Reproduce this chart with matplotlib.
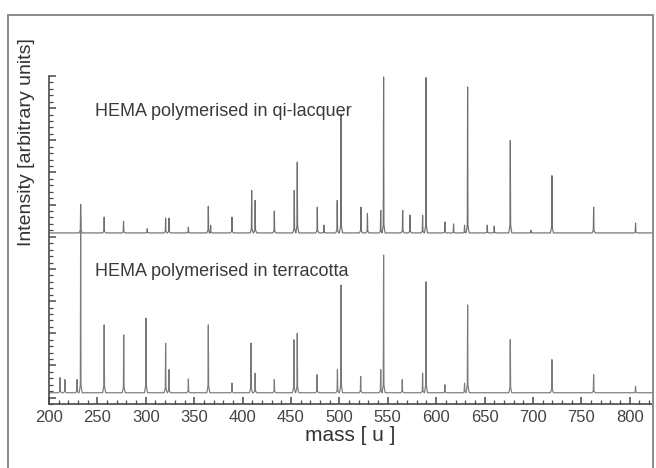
import numpy as np
from matplotlib import pyplot as plt
from matplotlib.patches import Rectangle
from matplotlib.ticker import MultipleLocator, NullFormatter

# peak lists (mass in u, intensity in arbitrary units)
lacquer_base = 5.12
lacquer_mass = [232.7, 257.0, 277.0, 301.5, 320.5, 324.0, 344.0, 364.6, 367.0, 389.0,
                409.4, 413.0, 432.8, 453.4, 456.5, 477.2, 484.0, 497.8, 501.7, 522.3,
                529.0, 542.7, 545.7, 565.4, 573.0, 586.0, 589.5, 609.0, 618.0, 629.3,
                632.5, 652.8, 660.0, 676.6, 698.0, 719.6, 762.7, 806.0]
lacquer_int = [6.01, 5.61, 5.48, 5.25, 5.58, 5.58, 5.30, 5.95, 5.36, 5.61,
               6.44, 6.13, 5.80, 6.44, 7.32, 5.92, 5.36, 6.13, 8.81, 5.92,
               5.72, 5.82, 9.97, 5.82, 5.67, 5.67, 9.95, 5.46, 5.40, 5.36,
               9.66, 5.36, 5.33, 7.99, 5.20, 6.90, 5.92, 5.43]

terracotta_base = 0.15
terracotta_mass = [211.4, 216.5, 229.0, 232.7, 257.0, 277.2, 300.2, 320.5, 324.0, 344.0,
                   364.6, 389.0, 408.7, 413.0, 432.8, 453.0, 456.5, 477.0, 498.0, 501.7,
                   522.0, 542.7, 545.7, 565.0, 586.0, 589.5, 609.0, 629.3, 632.5, 676.6,
                   719.6, 762.7, 806.0]
terracotta_int = [0.62, 0.56, 0.56, 5.60, 2.26, 1.95, 2.47, 1.69, 0.87, 0.58,
                  2.26, 0.45, 1.69, 0.76, 0.56, 1.80, 2.00, 0.71, 0.87, 3.50,
                  0.66, 0.87, 4.43, 0.56, 0.76, 3.60, 0.40, 0.45, 2.88, 1.80,
                  1.18, 0.71, 0.35]

mass_ticks = [200, 250, 300, 350, 400, 450, 500, 550, 600, 650, 700, 750, 800]
labels = ['HEMA polymerised in qi-lacquer', 'HEMA polymerised in terracotta']


def spectrum_line(masses, heights, base, start=200, stop=823):
    # sharp peaks with a small rounded foot on a flat baseline
    xs = [start]
    ys = [base]
    for m, h in zip(masses, heights):
        d = h - base
        foot = min(0.1 * d, 0.25)
        xs += [m - 1.6, m - 0.9, m - 0.35, m, m + 0.35, m + 0.9, m + 1.6]
        ys += [base, base + 0.5 * foot, base + foot, h, base + foot, base + 0.5 * foot, base]
    xs.append(stop)
    ys.append(base)
    return np.array(xs), np.array(ys)


plt.rcParams['font.family'] = ['Liberation Sans', 'DejaVu Sans']

fig = plt.figure(figsize=(6.56, 4.68), dpi=100)
fig.patch.set_facecolor('white')
ax = fig.add_axes([49 / 656, 64 / 468, 603 / 656, 328 / 468])

x1, y1 = spectrum_line(lacquer_mass, lacquer_int, lacquer_base)
x2, y2 = spectrum_line(terracotta_mass, terracotta_int, terracotta_base)
ax.plot(x1, y1, color='#707070', lw=0.85)
ax.plot(x2, y2, color='#7a7a7a', lw=0.85)

ax.text(247.5, 8.9, labels[0], fontsize=13, color='#3a3a3a', va='center', ha='left')
ax.text(247.5, 3.93, labels[1], fontsize=13, color='#3a3a3a', va='center', ha='left')

ax.set_xlim(200, 823)
ax.set_ylim(-0.2, 10)
ax.set_xticks(mass_ticks)
ax.xaxis.set_minor_locator(MultipleLocator(10))
ax.yaxis.set_major_locator(MultipleLocator(1))
ax.yaxis.set_minor_locator(MultipleLocator(0.2))
ax.yaxis.set_major_formatter(NullFormatter())

ax.tick_params(axis='both', which='major', direction='in', length=5, width=1.1,
               color='#4a4a4a', labelsize=12, labelcolor='#444444', pad=4)
ax.tick_params(axis='both', which='minor', direction='in', length=2.8, width=0.9,
               color='#4a4a4a')

for side in ['top', 'right']:
    ax.spines[side].set_visible(False)
for side in ['left', 'bottom']:
    ax.spines[side].set_color('#4a4a4a')
    ax.spines[side].set_linewidth(1.2)

ax.set_xlabel('mass [ u ]', fontsize=15, color='#333333')
ax.xaxis.set_label_coords(0.5, -0.068)
ax.xaxis.label.set_va('top')
ax.set_ylabel('Intensity [arbitrary units]', fontsize=14, color='#333333')
ax.yaxis.set_label_coords(-0.024, 0.80)

# frame around the whole scanned figure
fig.patches.append(Rectangle((8 / 656, -0.01), 645 / 656, 0.978, transform=fig.transFigure,
                             fill=False, edgecolor='#8a8a8a', lw=1.4))

plt.savefig('out.png', dpi=100)
